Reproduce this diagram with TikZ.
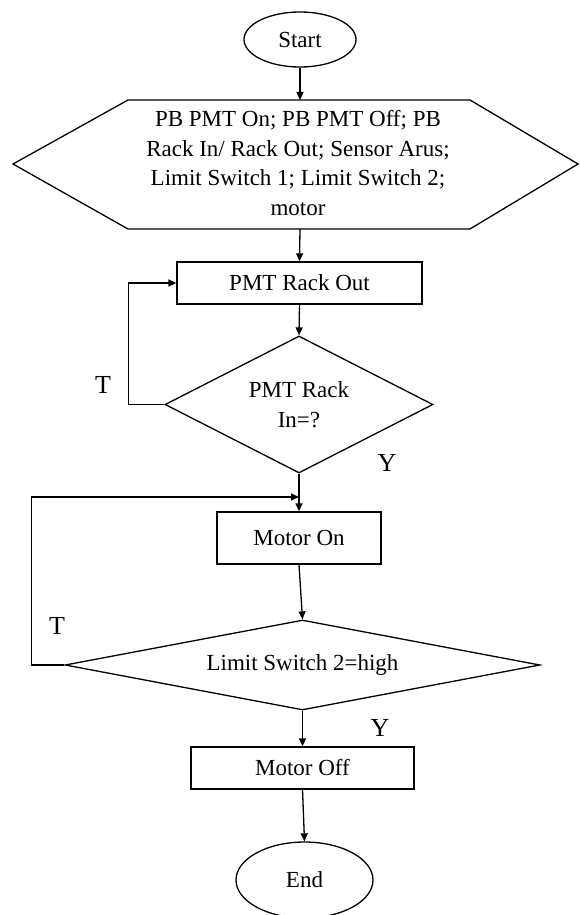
\documentclass[tikz,border=0pt]{standalone}
\usepackage{fontspec}
\setmainfont{Liberation Serif}
\usetikzlibrary{arrows.meta,shapes.geometric}
\begin{document}
\begin{tikzpicture}[x=1pt,y=1pt,
  every node/.style={font=\fontsize{23}{29.5}\selectfont},
  shp/.style={draw=black, line width=1.3pt},
  procbox/.style={shp, rectangle, inner sep=0pt},
  term/.style={shp, ellipse, inner sep=0pt},
  decide/.style={shp, diamond, inner sep=0pt, align=center},
  arr/.style={draw=black, line width=1.3pt, -{Triangle[length=8pt,width=7pt]}},
  lbl/.style={font=\fontsize{26}{30}\selectfont}]
\useasboundingbox (0,0) rectangle (579,-915);
% terminals and boxes
\node[term, minimum width=112, minimum height=55] (start) at (300,-39.5) {Start};
\draw[shp] (13,-164) -- (128,-100) -- (470,-100) -- (578,-164) -- (470,-229) -- (128,-229) -- cycle;
\coordinate (hexT) at (300,-100);
\coordinate (hexB) at (300,-229);
\node[align=center] (hextext) at (298,-163) {PB PMT On; PB PMT Off; PB\\Rack In/ Rack Out; Sensor Arus;\\Limit Switch 1; Limit Switch 2;\\motor};
\node[procbox, minimum width=245, minimum height=42] (b1) at (299.5,-283) {PMT Rack Out};
\node[decide, shape aspect=2, minimum width=268, minimum height=137] (d1) at (299,-404.5) {PMT Rack\\In=?};
\node[procbox, minimum width=164, minimum height=52] (b2) at (299,-538) {Motor On};
\node[decide, shape aspect=5, minimum width=475, minimum height=90] (d2) at (302.5,-665) {Limit Switch 2=high};
\node[procbox, minimum width=223, minimum height=42] (b3) at (302.5,-768) {Motor Off};
\node[term, minimum width=137, minimum height=76] (end) at (304.5,-880) {End};
\coordinate (j1) at (299,-497);
% connectors
\draw[arr] (start.south) -- (hexT);
\draw[arr] (hexB) -- (b1.north);
\draw[arr] (b1.south) -- (d1.north);
\draw[arr] (d1.west) -- ++(-36,0) |- (b1.west);
\draw[arr] (d1.south) -- (b2.north);
\draw[arr] (d2.west) -- ++(-33,0) |- (j1);
\draw[arr] (b2.south) -- (d2.north);
\draw[arr] (d2.south) -- (b3.north);
\draw[arr] (b3.south) -- (end.north);
% labels
\node[lbl] (t1) at (103,-385) {T};
\node[lbl] (y1) at (387,-463) {Y};
\node[lbl] (t2) at (57,-626) {T};
\node[lbl] (y2) at (380,-728) {Y};
\end{tikzpicture}
\end{document}
